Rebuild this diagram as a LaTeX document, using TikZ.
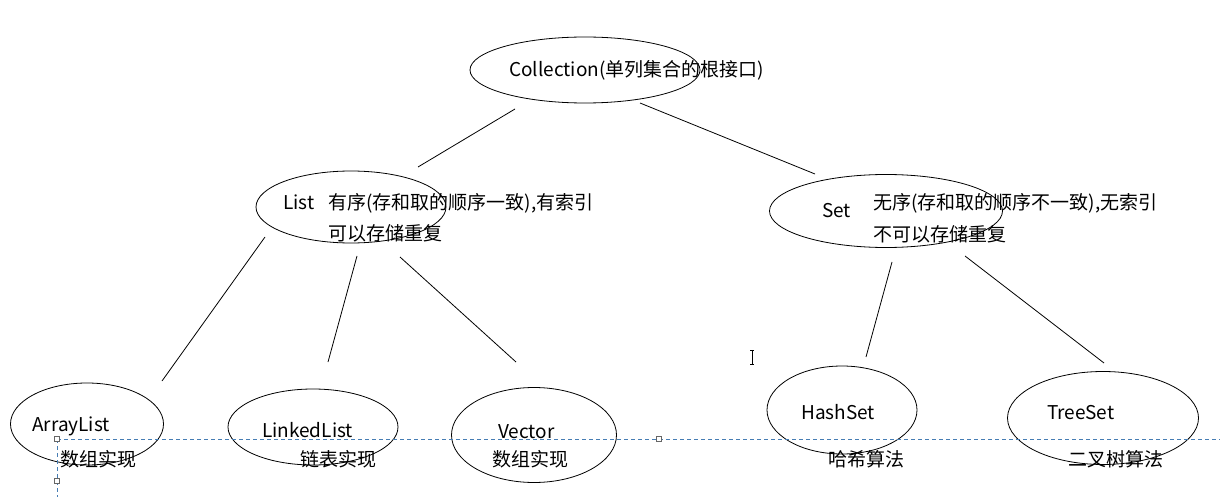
\documentclass[tikz,border=0pt]{standalone}
\usepackage{fontspec}
\setmainfont{Noto Sans CJK SC}
\usetikzlibrary{shapes.geometric}
\definecolor{guide}{RGB}{70,125,180}
\tikzset{
  ell/.style={draw=black, line width=0.8pt, ellipse, inner sep=0pt},
  conn/.style={draw=black, line width=0.8pt},
  lbl/.style={anchor=base west, inner sep=0pt, font=\fontsize{19}{22}\selectfont},
  guideline/.style={draw=guide, line width=0.9pt, dash pattern=on 4pt off 3pt},
  handle/.style={draw=gray!80!black, fill=white, line width=0.6pt, minimum size=5pt, inner sep=0pt, rectangle}
}
\begin{document}
\begin{tikzpicture}[x=1pt,y=-1pt]
\useasboundingbox (0,0) rectangle (1220,497);
\fill[white] (0,0) rectangle (1220,497);

% ellipses
\node[ell, minimum width=230pt, minimum height=66pt] (coll) at (585,70) {};
\node[ell, minimum width=190pt, minimum height=72pt] (list) at (351,207) {};
\node[ell, minimum width=233pt, minimum height=73pt] (set) at (886,211) {};
\node[ell, minimum width=153pt, minimum height=82pt] (al) at (87,424) {};
\node[ell, minimum width=170pt, minimum height=76pt] (ll) at (313,427) {};
\node[ell, minimum width=165pt, minimum height=95pt] (vec) at (534,435) {};
\node[ell, minimum width=150pt, minimum height=88pt] (hs) at (842,410) {};
\node[ell, minimum width=191pt, minimum height=93pt] (ts) at (1103,418) {};

% connector end points
\coordinate (c1a) at (515,109); \coordinate (c1b) at (418,167);
\coordinate (c2a) at (640,103); \coordinate (c2b) at (815,174);
\coordinate (c3a) at (265,237); \coordinate (c3b) at (162,381);
\coordinate (c4a) at (357,256); \coordinate (c4b) at (328,362);
\coordinate (c5a) at (400,257); \coordinate (c5b) at (516,362);
\coordinate (c6a) at (892,262); \coordinate (c6b) at (866,357);
\coordinate (c7a) at (965,256); \coordinate (c7b) at (1104,363);
\draw[conn] (c1a) -- (c1b);
\draw[conn] (c2a) -- (c2b);
\draw[conn] (c3a) -- (c3b);
\draw[conn] (c4a) -- (c4b);
\draw[conn] (c5a) -- (c5b);
\draw[conn] (c6a) -- (c6b);
\draw[conn] (c7a) -- (c7b);

% guide lines
\coordinate (g0) at (57,439);
\coordinate (g1) at (1220,439);
\coordinate (g2) at (57,497);
\draw[guideline] (g0) -- (g1);
\draw[guideline] (g0) -- (g2);
\node[handle] (h1) at (57,439) {};
\node[handle] (h2) at (57,481) {};
\node[handle] (h3) at (659,439) {};

% labels
\node[lbl] (tcoll) at (509,77) {Collection(单列集合的根接口)};
\node[lbl] (tlist) at (283,209) {List};
\node[lbl] (tlist1) at (328,209) {有序(存和取的顺序一致),有索引};
\node[lbl] (tlist2) at (328,240) {可以存储重复};
\node[lbl] (tset) at (822,218) {Set};
\node[lbl] (tset1) at (873,210) {无序(存和取的顺序不一致),无索引};
\node[lbl] (tset2) at (873,241) {不可以存储重复};
\node[lbl] (tal) at (32,431) {ArrayList};
\node[lbl] (tal2) at (60,466) {数组实现};
\node[lbl] (tll) at (262,437) {LinkedList};
\node[lbl] (tll2) at (300,466) {链表实现};
\node[lbl] (tvec) at (498,438) {Vector};
\node[lbl] (tvec2) at (492,466) {数组实现};
\node[lbl] (ths) at (801,419) {HashSet};
\node[lbl] (ths2) at (828,466) {哈希算法};
\node[lbl] (tts) at (1047,419) {TreeSet};
\node[lbl] (tts2) at (1068,466) {二叉树算法};

% text cursor
\draw[line width=0.7pt] (750,350) -- (754,350) (752,350) -- (752,364) (750,364) -- (754,364);
\end{tikzpicture}
\end{document}
